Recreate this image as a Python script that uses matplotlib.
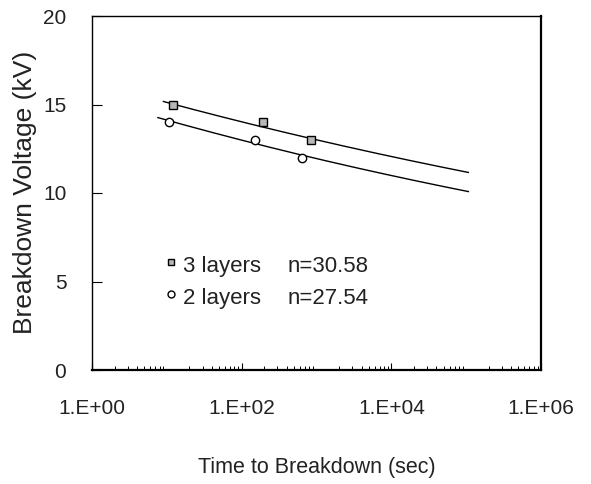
import numpy as np
import matplotlib
matplotlib.use("Agg")
import matplotlib.pyplot as plt
from matplotlib.ticker import LogLocator, FixedLocator, NullFormatter

plt.rcParams['font.family'] = ['Liberation Sans', 'DejaVu Sans']

# data
t3 = [12, 190, 850]
v3 = [15.0, 14.0, 13.0]
t2 = [10.7, 150, 650]
v2 = [14.0, 13.0, 12.0]
# fitted inverse power law V = A * t^(-1/n)
A3, n3 = 16.3, 30.58
A2, n2 = 15.35, 27.54
fit3_range = (9, 1.07e5)
fit2_range = (7.6, 1.07e5)
xticks = [1, 1e2, 1e4, 1e6]
xticklabels = ['1.E+00', '1.E+02', '1.E+04', '1.E+06']
yticks = [0, 5, 10, 15, 20]
legend_labels = ['3 layers', '2 layers']
legend_n = ['n=30.58', 'n=27.54']

W, H = 591, 484
fig = plt.figure(figsize=(W/100, H/100), dpi=100)
ax = fig.add_axes([92/W, 1-370/H, (541-92)/W, (370-16)/H])

for A, n, rng in [(A3, n3, fit3_range), (A2, n2, fit2_range)]:
    tt = np.logspace(np.log10(rng[0]), np.log10(rng[1]), 200)
    ax.plot(tt, A * tt ** (-1.0 / n), color='black', lw=1.0)

ax.plot(t3, v3, linestyle='none', marker='s', ms=5.5, mfc='#b8b8b8', mec='black', mew=1.0)
ax.plot(t2, v2, linestyle='none', marker='o', ms=6, mfc='white', mec='black', mew=1.0)

ax.set_xscale('log')
ax.set_xlim(1, 1e6)
ax.set_ylim(0, 20)
ax.xaxis.set_major_locator(FixedLocator(xticks))
ax.set_xticklabels(xticklabels)
ax.xaxis.set_minor_locator(LogLocator(base=10, subs=np.arange(2, 10)))
ax.xaxis.set_minor_formatter(NullFormatter())
ax.set_yticks(yticks)
ax.tick_params(axis='x', which='major', direction='in', length=5, width=0.8, pad=21, labelsize=15, labelcolor='#222222')
ax.tick_params(axis='x', which='minor', direction='in', length=3, width=0.7)
ax.tick_params(axis='y', direction='in', length=7, width=0.8, pad=18.5, labelsize=15, labelcolor='#222222')
ax.spines['bottom'].set_linewidth(1.6)
ax.spines['right'].set_linewidth(1.6)
ax.spines['top'].set_linewidth(1.0)
ax.spines['left'].set_linewidth(1.0)

fig.text(317/W, 1-467/H, 'Time to Breakdown (sec)', fontsize=15.5, ha='center', va='center', color='#222222')
fig.text(25/W, 1-192/H, 'Breakdown Voltage (kV)', fontsize=19, ha='center', va='center', rotation=90, color='#222222')

# legend drawn as markers + text in data coordinates
def xpix(px):
    return 10 ** ((px - 92) / 75.0)
def ypix(py):
    return (370 - py) / 17.7

ax.plot([xpix(171)], [ypix(262)], marker='s', ms=5, mfc='#b8b8b8', mec='black', mew=1.0, linestyle='none')
ax.plot([xpix(171)], [ypix(294)], marker='o', ms=5, mfc='white', mec='black', mew=1.0, linestyle='none')
for lab, nn, py in zip(legend_labels, legend_n, [272, 304]):
    ax.text(xpix(183), ypix(py), lab, fontsize=16, va='baseline', ha='left', color='#222222')
    ax.text(xpix(288), ypix(py), nn, fontsize=16, va='baseline', ha='left', color='#222222')

fig.savefig('out.png', dpi=100)
